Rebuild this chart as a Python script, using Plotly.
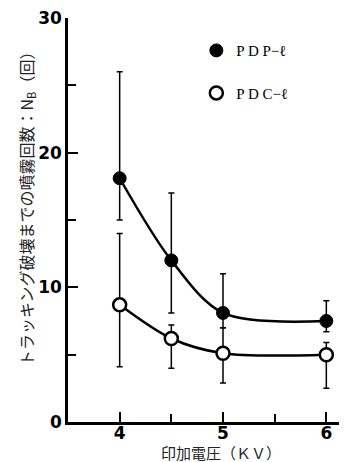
import plotly.graph_objects as go

# Data
voltage_kv = [4.0, 4.5, 5.0, 6.0]

pdp_mean = [18.1, 12.0, 8.1, 7.5]
pdp_upper = [26.0, 17.0, 11.0, 9.0]
pdp_lower = [15.0, 8.1, 7.0, 6.7]

pdc_mean = [8.7, 6.2, 5.1, 5.0]
pdc_upper = [14.0, 7.2, 7.0, 5.9]
pdc_lower = [4.1, 4.0, 2.9, 2.5]

x_ticks = [4, 5, 6]
y_ticks = [0, 10, 20, 30]

series_names = ["P D P\u2212\u2113", "P D C\u2212\u2113"]
x_title = "印加電圧（ＫＶ）"
y_title = "トラッキング破壊までの噴霧回数：N<sub>B</sub>（回）"


def err(mean, upper, lower):
    return dict(
        type="data",
        symmetric=False,
        array=[u - m for u, m in zip(upper, mean)],
        arrayminus=[m - l for m, l in zip(mean, lower)],
        color="black",
        thickness=1.5,
        width=3,
    )


fig = go.Figure()

# smooth curves
for mean in (pdp_mean, pdc_mean):
    fig.add_trace(go.Scatter(
        x=voltage_kv, y=mean, mode="lines",
        line=dict(color="black", width=2.5, shape="spline", smoothing=0.9),
        showlegend=False, hoverinfo="skip",
    ))

fig.add_trace(go.Scatter(
    x=voltage_kv, y=pdp_mean, mode="markers", name=series_names[0],
    legendgroup="a",
    error_y=err(pdp_mean, pdp_upper, pdp_lower),
    marker=dict(symbol="circle", size=13, color="black",
                line=dict(color="black", width=1)),
))
fig.add_trace(go.Scatter(
    x=voltage_kv, y=pdc_mean, mode="markers", name=series_names[1],
    legendgroup="b",
    error_y=err(pdc_mean, pdc_upper, pdc_lower),
    marker=dict(symbol="circle", size=13, color="white",
                line=dict(color="black", width=2.5)),
))

tick_font = dict(family="DejaVu Sans", size=17, color="black", weight="bold")
x_title_font = dict(family="Noto Sans CJK JP", size=15, color="#222")
y_title_font = dict(family="Noto Sans CJK JP", size=16, color="#222")

# page body has an 8px margin, so the figure is 8px smaller than the window
top_px, bottom_px, left_px = 18, 422, 68
plot_h = bottom_px - top_px
plot_w = 347 - left_px

fig.update_layout(
    width=339, height=454,
    margin=dict(l=left_px - 8, r=0, t=top_px - 8, b=454 - (bottom_px - 8),
                autoexpand=False),
    paper_bgcolor="white", plot_bgcolor="white",
    showlegend=True,
    legend=dict(
        x=0.46, y=0.96, xanchor="left", yanchor="top",
        font=dict(family="Liberation Serif", size=15, color="black"),
        tracegroupgap=20, bgcolor="rgba(0,0,0,0)",
    ),
    xaxis=dict(
        range=[3.5, 6.2], tickvals=x_ticks, ticktext=[str(v) for v in x_ticks],
        showgrid=False, zeroline=False, automargin=False,
        showline=True, linecolor="black", linewidth=2.5,
        ticks="inside", ticklen=10, tickwidth=1.5, tickcolor="black",
        minor=dict(ticks="inside", ticklen=8, tickwidth=1.5, tickcolor="black",
                   dtick=0.5, tick0=3.5, showgrid=False),
        tickfont=tick_font, ticklabelstandoff=-6, ticklabeloverflow="allow",
    ),
    yaxis=dict(
        range=[0, 30], tickvals=y_ticks, ticktext=[str(v) for v in y_ticks],
        showgrid=False, zeroline=False, automargin=False,
        showline=True, linecolor="black", linewidth=2.5,
        ticks="inside", ticklen=10, tickwidth=1.5, tickcolor="black",
        minor=dict(ticks="inside", ticklen=8, tickwidth=1.5, tickcolor="black",
                   dtick=5, tick0=0, showgrid=False),
        tickfont=tick_font, ticklabeloverflow="allow",
    ),
    annotations=[
        dict(text=x_title, xref="paper", yref="paper",
             x=(221 - left_px) / plot_w, y=-(452 - bottom_px) / plot_h,
             xanchor="center", yanchor="middle", showarrow=False,
             font=x_title_font),
        dict(text=y_title, xref="paper", yref="paper",
             x=-(left_px - 26) / plot_w, y=(bottom_px - 205) / plot_h,
             xanchor="center", yanchor="middle", showarrow=False,
             textangle=-90, font=y_title_font),
    ],
)

fig.write_html("out.html")
